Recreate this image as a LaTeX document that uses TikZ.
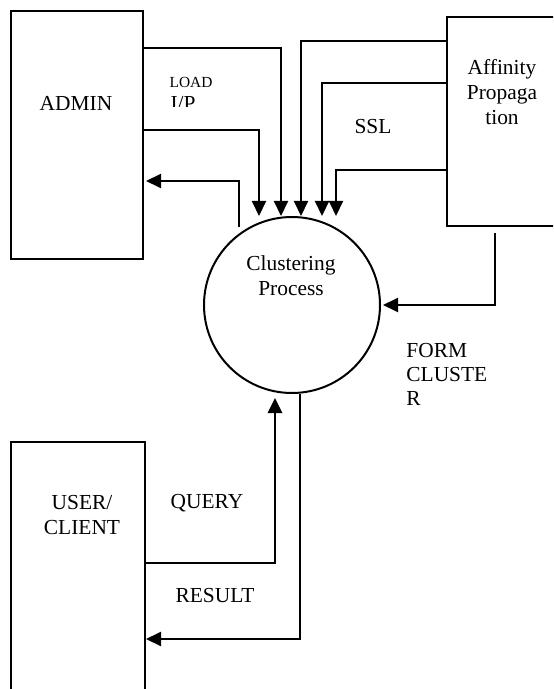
\documentclass[tikz,border=0pt]{standalone}
\usepackage{fontspec}
\setmainfont{Liberation Serif}
\usetikzlibrary{arrows.meta,positioning,shapes.geometric}

\begin{document}
\begin{tikzpicture}[
  x=0.5pt, y=-0.5pt,
  font=\fontsize{10.7}{12.5}\selectfont,
  box/.style={draw, line width=1pt, inner sep=0pt},
  txt/.style={inner sep=0pt, align=center},
  flow/.style={-{Triangle[length=7.5pt, width=7pt]}, line width=1pt}
]
\useasboundingbox (0,0) rectangle (553,689);
\clip (0,0) rectangle (553,689);

\node[box, minimum width=66pt, minimum height=124pt] (admin) at (77,135) {};
\node[box, minimum width=55pt, minimum height=104.5pt] (aff) at (502,121.5) {};
\node[box, minimum width=67pt, minimum height=149pt] (user) at (78,591) {};
\node[box, circle, minimum size=88pt] (proc) at (292,305) {};

\node[txt] (admintxt) at (76,103) {ADMIN};
\node[txt] (afftxt) at (502,92) {Affinity\\Propaga\\tion};
\node[txt] (usertxt) at (82,515) {USER/\\CLIENT};
\node[txt] (proctxt) at (291,276) {Clustering\\Process};

\node[txt, font=\fontsize{7.7}{9}\selectfont] (load) at (191,82) {LOAD};
\begin{scope}
  \clip (160,90) rectangle (230,106.5);
  \node[txt, anchor=base] (ip) at (183,111) {I/P};
\end{scope}
\node[txt] (ssl) at (373,127) {SSL};
\node[txt, align=left, anchor=west, font=\fontsize{10.7}{12}\selectfont] (form) at (406,374) {FORM\\CLUSTE\\R};
\node[txt] (query) at (207,503) {QUERY};
\node[txt] (result) at (215,596) {RESULT};

\draw[flow] ([yshift=-19pt]admin.north east) -| ([xshift=-5.5pt]proc.north);
\draw[flow] ([yshift=-60pt]admin.north east) -| ([xshift=-16.5pt]proc.north);
\draw[flow] ([xshift=-26.5pt,yshift=-5.5pt]proc.north) |- ([xshift=1pt,yshift=-85.5pt]admin.north east);

\draw[flow] ([yshift=-12.5pt]aff.north west) -| ([xshift=4.5pt]proc.north);
\draw[flow] ([yshift=-33.5pt]aff.north west) -| ([xshift=15pt]proc.north);
\draw[flow] ([yshift=-77pt]aff.north west) -| ([xshift=22pt]proc.north);
\draw[flow] ([xshift=-3.5pt,yshift=-3pt]aff.south) |- ([xshift=1pt]proc.east);

\draw[flow, line width=1.4pt] ([yshift=-61pt]user.north east) -| ([xshift=-8.5pt,yshift=-2pt]proc.south);
\draw[flow] ([xshift=4pt]proc.south) |- ([yshift=-99pt]user.north east);
\end{tikzpicture}
\end{document}
